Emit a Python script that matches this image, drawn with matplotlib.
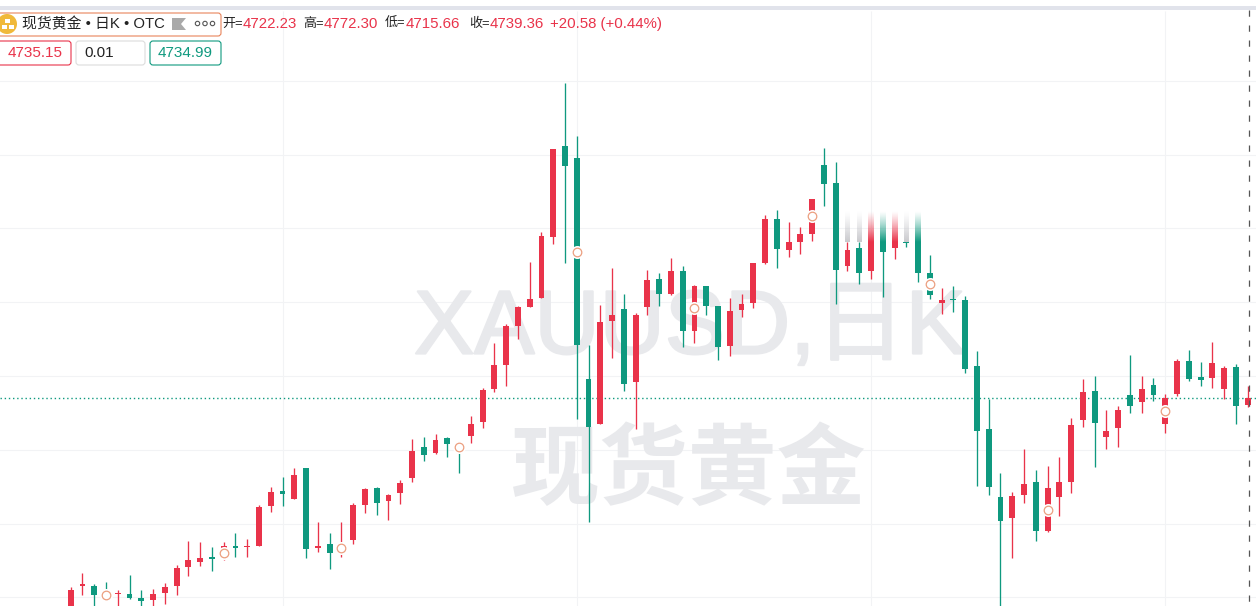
import numpy as np
import matplotlib
matplotlib.use("Agg")
import matplotlib.pyplot as plt
import matplotlib.patheffects as pe
from matplotlib.patches import FancyBboxPatch, Circle, Polygon, Rectangle
from matplotlib.transforms import Affine2D
from matplotlib.colors import to_rgb

opens = [4160,4232,4231,4209,4208,4209,4198,4193,4212,4231,4282,4296,4309,4304,4339,4337,4339,4448,4488,4467,
         4551,4334,4345,4328,4356,4450,4496,4461,4483,4524,4608,4591,4632,4613,4637,4675,4765,4830,4936,4987,
         5011,5177,5423,5391,4792,4670,4949,4982,4784,4987,5063,5022,5085,4922,5044,4990,4881,4979,4998,5106,
         5225,5141,5163,5185,5372,5323,5098,5147,5085,5163,5147,5163,5163,5079,4998,5009,5006,4827,4656,4472,
         4415,4478,4513,4380,4472,4513,4681,4759,4635,4659,4749,4730,4776,4670,4751,4841,4797,4795,4765,4824,
         4722.23]
highs = [4228,4266,4236,4242,4220,4261,4220,4223,4239,4288,4353,4350,4337,4350,4375,4358,4450,4499,4526,4551,
         4551,4404,4375,4404,4456,4496,4499,4480,4518,4629,4635,4643,4635,4624,4692,4767,4889,4941,4990,5109,
         5190,5415,5594,5450,4884,4992,5093,5022,4971,5087,5079,5120,5098,5047,5044,4990,5011,5022,5106,5236,
         5250,5217,5204,5280,5418,5380,5163,5163,5163,5163,5163,5163,5163,5128,5038,5044,5017,4868,4738,4537,
         4486,4602,4545,4556,4580,4686,4792,4800,4708,4719,4857,4800,4795,4751,4846,4870,4838,4892,4827,4833,
         4772.30]
lows = [4152,4207,4171,4193,4171,4196,4171,4171,4182,4207,4258,4285,4272,4301,4309,4309,4339,4431,4448,4467,
        4307,4323,4277,4309,4345,4429,4423,4410,4453,4513,4570,4589,4580,4537,4618,4659,4757,4773,4900,4987,
        5011,5158,5106,4683,4404,4670,4849,4759,4656,4965,4990,5020,4879,4889,4965,4843,4854,4960,4984,5104,
        5093,5122,5131,5166,5261,4995,5085,5049,5063,5014,5117,5150,5055,5009,4968,4973,4808,4502,4478,4171,
        4307,4456,4353,4377,4421,4483,4662,4553,4602,4608,4700,4700,4732,4646,4746,4786,4773,4767,4738,4670,
        4715.66]
closes = [4220,4235,4207,4201,4211,4198,4190,4209,4228,4280,4301,4307,4304,4339,4334,4339,4445,4486,4480,4532,
          4331,4339,4320,4342,4450,4494,4456,4478,4510,4597,4586,4627,4616,4602,4670,4762,4830,4936,4987,5009,
          5179,5415,5369,4884,4662,4946,4965,4778,4965,5060,5022,5085,4922,5044,4990,4879,4976,4995,5106,5225,
          5144,5163,5185,5280,5320,5087,5141,5079,5163,5136,5163,5160,5079,5020,5006,5006,4819,4651,4499,4407,
          4475,4507,4380,4496,4513,4667,4757,4673,4651,4708,4719,4765,4749,4740,4841,4792,4789,4835,4822,4719,
          4739.36]

marker_idx = [3,13,23,33,43,53,63,73,83,93]
marker_price = [4207,4321,4333,4607,5137,4984,5233,5049,4438,4706]
fade_idx = [66,67,68,69,70,71,72]
fade_kind = ["gray","gray","up","down","up","gray","down"]
grid_prices = [4200,4400,4600,4800,5000,5200,5400,5600]
grid_idx = [18,43,68,93]

UP, DOWN = "#e9334a", "#0f997f"
GRID = "#f2f3f5"
WM = "#e8e9ec"
CJK = ["Liberation Sans", "Noto Sans CJK SC"]
plt.rcParams["font.family"] = CJK

fig = plt.figure(figsize=(12.56, 6.06), dpi=100, facecolor="white")
ax = fig.add_axes([0, 0, 1, 1])
ax.set_axis_off()
px = Affine2D().scale(1/1256, -1/606).translate(0, 1) + fig.transFigure

x = np.arange(len(opens))
o, h, l, c = map(np.array, (opens, highs, lows, closes))
cols = [UP if cc >= oo else DOWN for oo, cc in zip(o, c)]

ax.hlines(grid_prices, -7, 102, color=GRID, lw=0.8, zorder=1)
ax.vlines(grid_idx, 4100, 5790, color=GRID, lw=0.8, zorder=1)

ax.text(690, 330, "XAUUSD,日K", transform=px, ha="center", va="center", fontsize=65,
        color=WM, zorder=2, family=["Liberation Sans", "Noto Sans CJK SC"],
        path_effects=[pe.withStroke(linewidth=1.6, foreground=WM)])
ax.text(689, 472, "现货黄金", transform=px, ha="center", va="center", fontsize=64,
        color=WM, zorder=2, family=["Noto Sans CJK SC"], fontweight="bold")

ax.axhline(closes[-1], color=DOWN, lw=1.0, ls=(0, (1, 2)), zorder=3)

ax.vlines(x, l, h, colors=cols, lw=0.95, zorder=4)
body_low = np.minimum(o, c)
body_h = np.maximum(np.abs(c - o), 2.7)
ax.bar(x, body_h, bottom=body_low, width=0.5, color=cols, lw=0, zorder=5)

# fading strips above the candles
top_price = 5245
for i, kind in zip(fade_idx, fade_kind):
    base = {"gray": "#c9c9cd", "up": UP, "down": DOWN}[kind]
    w = 0.17 if kind == "gray" else 0.25
    grad = np.zeros((64, 1, 4))
    grad[..., :3] = to_rgb(base)
    grad[:, 0, 3] = np.linspace(0, 1, 64) ** 1.2
    ax.imshow(grad, extent=(i - w, i + w, highs[i], top_price), aspect="auto",
              origin="upper", zorder=4.5, interpolation="bilinear")

ax.scatter(marker_idx, marker_price, s=88, c="white", lw=0, zorder=6)
ax.scatter(marker_idx, marker_price, s=38, facecolors="white", edgecolors="#ec9f80", lw=0.9, zorder=7)

ax.set_xlim(-6.007, 100.71)
ax.set_ylim(4176.7, 5819)

# right cursor line and top band
ax.add_patch(Rectangle((0, 6), 1256, 3.5, transform=px, fc="#e1e3eb", ec="none", zorder=8))
ax.plot([1248.5, 1248.5], [10, 606], transform=px, color="#555555", lw=0.9, ls=(0, (5, 7)), zorder=8)

# header
def box(x0, y0, x1, y1, ec, lw=0.8):
    ax.add_patch(FancyBboxPatch((x0, y0), x1 - x0, y1 - y0, boxstyle="round,pad=0,rounding_size=3",
                                transform=px, fc="white", ec=ec, lw=lw, zorder=9))

def t(xp, yp, s, color="#222222", ha="left", fs=11):
    ax.text(xp, yp, s, transform=px, color=color, ha=ha, va="center", fontsize=fs, zorder=10)

box(-3, 13, 221, 36, "#e8835a")
ax.add_patch(Circle((7, 24), 10, transform=px, fc="#f0b93a", ec="none", zorder=10))
for (sx, sy) in [(5, 19), (1.5, 25), (8.5, 25)]:
    ax.add_patch(Rectangle((sx, sy), 5, 4, transform=px, fc="white", ec="none", zorder=11))
t(22, 24, "现货黄金 • 日K • OTC", fs=10.7)
ax.add_patch(Polygon([(172, 18), (186, 18), (181, 24), (186, 30), (172, 30)], transform=px,
                     fc="#a9a9a9", ec="none", zorder=10))
for cx in (197.5, 205, 212.5):
    ax.add_patch(Circle((cx, 23.5), 2.2, transform=px, fc="white", ec="#555555", lw=0.8, zorder=10))

for xp, s in [(222, "开="), (303, "高="), (385, "低="), (469, "收=")]:
    t(xp, 24, s, fs=9.4)
for xp, s in [(243, "4722.23"), (324, "4772.30"), (406, "4715.66"), (490, "4739.36"), (550, "+20.58 (+0.44%)")]:
    t(xp, 24, s, UP, fs=10.8)

box(-3, 41, 71, 65, UP)
t(35, 53, "4735.15", UP, "center")
box(76, 41, 145, 65, "#dcdcdc")
t(84, 53, "0.01")
box(150, 41, 221, 65, DOWN)
t(185.5, 53, "4734.99", DOWN, "center")

fig.savefig("out.png", dpi=100, facecolor="white")
